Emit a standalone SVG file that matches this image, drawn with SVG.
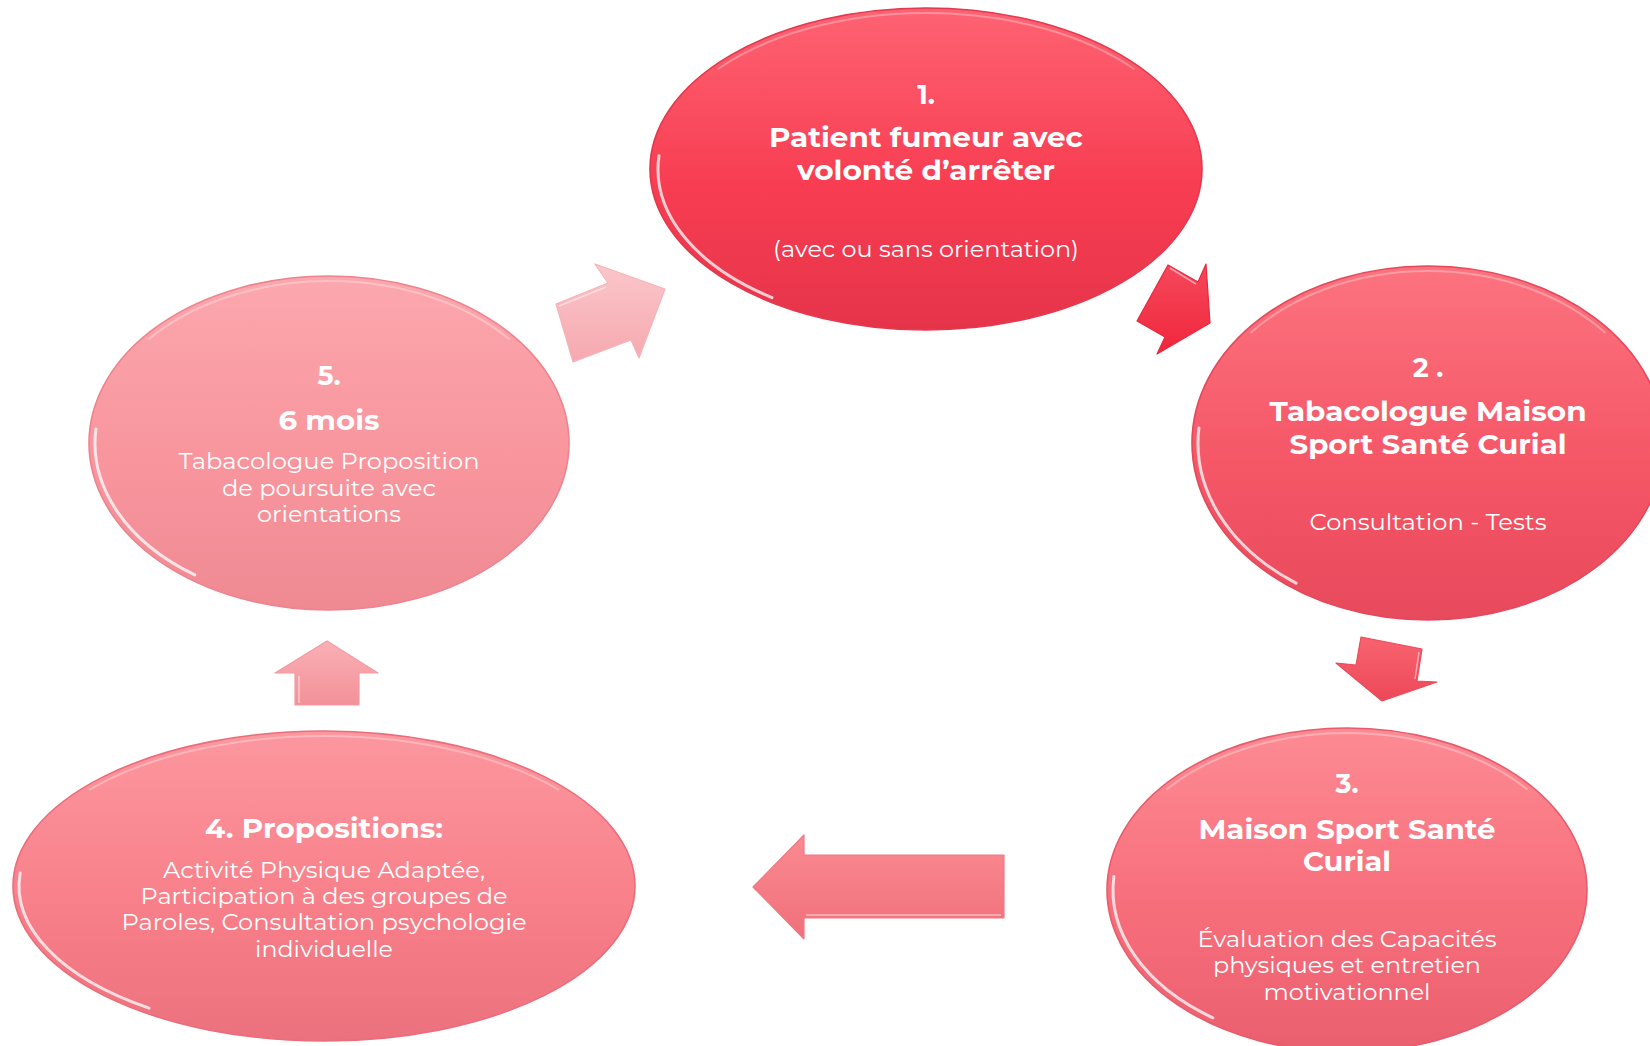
<svg xmlns="http://www.w3.org/2000/svg" width="1650" height="1046" viewBox="0 0 1650 1046">
<style>
text{fill:#ffffff;text-anchor:middle;font-family:Montserrat,"DejaVu Sans","Noto Sans",sans-serif}
.b{font-weight:700;font-size:27px}
.r{font-weight:400;font-size:23px}
.rim{fill:none;stroke-width:1.6}
.hl{fill:none;stroke:#ffffff;stroke-width:3;stroke-opacity:.75;stroke-linecap:round;filter:url(#soft)}
.hlt{fill:none;stroke:#ffffff;stroke-width:2;stroke-opacity:.3;stroke-linecap:round;filter:url(#soft)}
.arr{stroke-width:1.2;stroke-linejoin:round}
</style>
<defs>
<filter id="soft" x="-10%" y="-10%" width="120%" height="120%"><feGaussianBlur stdDeviation="0.7"/></filter>
<linearGradient id="g1" x1="0" y1="0" x2="0" y2="1"><stop offset="0" stop-color="#fe6373"/><stop offset=".55" stop-color="#f83d52"/><stop offset="1" stop-color="#e5344a"/></linearGradient>
<linearGradient id="g2" x1="0" y1="0" x2="0" y2="1"><stop offset="0" stop-color="#fc737f"/><stop offset=".55" stop-color="#f55767"/><stop offset="1" stop-color="#e84a5d"/></linearGradient>
<linearGradient id="g3" x1="0" y1="0" x2="0" y2="1"><stop offset="0" stop-color="#fd8b94"/><stop offset=".55" stop-color="#f76e7b"/><stop offset="1" stop-color="#ea5f6f"/></linearGradient>
<linearGradient id="g4" x1="0" y1="0" x2="0" y2="1"><stop offset="0" stop-color="#fc979f"/><stop offset=".55" stop-color="#f8808a"/><stop offset="1" stop-color="#ec717e"/></linearGradient>
<linearGradient id="g5" x1="0" y1="0" x2="0" y2="1"><stop offset="0" stop-color="#fca7ae"/><stop offset=".55" stop-color="#f8959d"/><stop offset="1" stop-color="#ef8a93"/></linearGradient>
<linearGradient id="a6" x1="0" y1="0" x2="0" y2="1"><stop offset="0" stop-color="#fbc6ca"/><stop offset="1" stop-color="#f5a9af"/></linearGradient>
<linearGradient id="a7" x1="0" y1="0" x2="0" y2="1"><stop offset="0" stop-color="#f6485b"/><stop offset="1" stop-color="#f0263c"/></linearGradient>
<linearGradient id="a8" x1="0" y1="0" x2="0" y2="1"><stop offset="0" stop-color="#f8636f"/><stop offset="1" stop-color="#ec4858"/></linearGradient>
<linearGradient id="a9" x1="0" y1="0" x2="0" y2="1"><stop offset="0" stop-color="#fab0b6"/><stop offset="1" stop-color="#f39098"/></linearGradient>
<linearGradient id="a10" x1="0" y1="0" x2="0" y2="1"><stop offset="0" stop-color="#fb8a92"/><stop offset="1" stop-color="#ef6f7a"/></linearGradient>
</defs>

<g id="connectors">
  <polygon id="c5to1" class="arr" fill="url(#a6)" stroke="#f6b3b8" points="556,304 608,283 595,264 665,289 639,358 631,340 573,362"/>
  <polygon id="c1to2" class="arr" fill="url(#a7)" stroke="#e9283e" points="1168,265 1198,282 1206,264 1210,323 1157,354 1165,337 1137,321"/>
  <polygon id="c2to3" class="arr" fill="url(#a8)" stroke="#ea4a5a" points="1361,637 1422,649 1417,681 1437,682 1382,701 1336,663 1356,665"/>
  <polygon id="c4to5" class="arr" fill="url(#a9)" stroke="#f39ba1" points="327,641 378,673 359,673 359,705 295,705 295,673 275,673"/>
  <polygon id="c3to4" class="arr" fill="url(#a10)" stroke="#f07883" points="753,887 804,835 804,855 1004,855 1004,918 804,918 804,939"/>
  <g fill="none" stroke="#ffffff" stroke-opacity=".5" stroke-width="1.5">
    <line x1="559" y1="306" x2="606" y2="287"/>
    <line x1="1170" y1="268" x2="1196" y2="284"/>
    <line x1="1419" y1="652" x2="1415" y2="679"/>
    <line x1="299" y1="676" x2="299" y2="703"/>
    <line x1="806" y1="915" x2="1001" y2="915"/>
  </g>
</g>

<g id="node1">
  <ellipse cx="926" cy="169" rx="276" ry="161" fill="url(#g1)"/>
  <ellipse class="rim" cx="926" cy="169" rx="276" ry="161" stroke="#e3384d"/>
  <path class="hl" d="M659,155.7 A268,157 0 0 0 772,297.6"/>
  <path class="hlt" d="M718.4,68.7 A271,156 0 0 1 1133.6,68.7"/>
  <text class="b" x="926" y="104">1.</text>
  <text class="b" x="926" y="147" textLength="314" lengthAdjust="spacingAndGlyphs">Patient fumeur avec</text>
  <text class="b" x="926" y="180" textLength="258" lengthAdjust="spacingAndGlyphs">volonté d’arrêter</text>
  <text class="r" x="926" y="257" textLength="306" lengthAdjust="spacingAndGlyphs">(avec ou sans orientation)</text>
</g>

<g id="node2">
  <ellipse cx="1428" cy="443" rx="236" ry="177" fill="url(#g2)"/>
  <ellipse class="rim" cx="1428" cy="443" rx="236" ry="177" stroke="#e5475b"/>
  <path class="hl" d="M1198.9,428.1 A230,171 0 0 0 1296.1,583.1"/>
  <path class="hlt" d="M1251.1,332.4 A231,172 0 0 1 1604.9,332.4"/>
  <text class="b" x="1428" y="377">2 .</text>
  <text class="b" x="1428" y="421" textLength="317" lengthAdjust="spacingAndGlyphs">Tabacologue Maison</text>
  <text class="b" x="1428" y="454" textLength="277" lengthAdjust="spacingAndGlyphs">Sport Santé Curial</text>
  <text class="r" x="1428" y="530" textLength="237" lengthAdjust="spacingAndGlyphs">Consultation - Tests</text>
</g>

<g id="node3">
  <ellipse cx="1347" cy="890" rx="240" ry="162" fill="url(#g3)"/>
  <ellipse class="rim" cx="1347" cy="890" rx="240" ry="162" stroke="#e75c6c"/>
  <path class="hl" d="M1113.9,876.4 A234,156 0 0 0 1212.8,1017.8"/>
  <path class="hlt" d="M1167,789.1 A235,157 0 0 1 1527,789.1"/>
  <text class="b" x="1347" y="793">3.</text>
  <text class="b" x="1347" y="839" textLength="297" lengthAdjust="spacingAndGlyphs">Maison Sport Santé</text>
  <text class="b" x="1347" y="871" textLength="88" lengthAdjust="spacingAndGlyphs">Curial</text>
  <text class="r" x="1347" y="947" textLength="299" lengthAdjust="spacingAndGlyphs">Évaluation des Capacités</text>
  <text class="r" x="1347" y="973" textLength="268" lengthAdjust="spacingAndGlyphs">physiques et entretien</text>
  <text class="r" x="1347" y="1000" textLength="167" lengthAdjust="spacingAndGlyphs">motivationnel</text>
</g>

<g id="node4">
  <ellipse cx="324" cy="886" rx="311" ry="155" fill="url(#g4)"/>
  <ellipse class="rim" cx="324" cy="886" rx="311" ry="155" stroke="#eb6c7a"/>
  <path class="hl" d="M20.2,873 A305,149 0 0 0 149.1,1008.1"/>
  <path class="hlt" d="M89.6,789.6 A306,150 0 0 1 558.4,789.6"/>
  <text class="b" x="324" y="838" textLength="238" lengthAdjust="spacingAndGlyphs">4. Propositions:</text>
  <text class="r" x="324" y="878" textLength="322" lengthAdjust="spacingAndGlyphs">Activité Physique Adaptée,</text>
  <text class="r" x="324" y="904" textLength="367" lengthAdjust="spacingAndGlyphs">Participation à des groupes de</text>
  <text class="r" x="324" y="930" textLength="405" lengthAdjust="spacingAndGlyphs">Paroles, Consultation psychologie</text>
  <text class="r" x="324" y="957" textLength="138" lengthAdjust="spacingAndGlyphs">individuelle</text>
</g>

<g id="node5">
  <ellipse cx="329" cy="443" rx="240" ry="167" fill="url(#g5)"/>
  <ellipse class="rim" cx="329" cy="443" rx="240" ry="167" stroke="#ee838d"/>
  <path class="hl" d="M95.9,429 A234,161 0 0 0 194.8,574.9"/>
  <path class="hlt" d="M149,338.9 A235,162 0 0 1 509,338.9"/>
  <text class="b" x="329" y="385">5.</text>
  <text class="b" x="329" y="430" textLength="101" lengthAdjust="spacingAndGlyphs">6 mois</text>
  <text class="r" x="329" y="469" textLength="301" lengthAdjust="spacingAndGlyphs">Tabacologue Proposition</text>
  <text class="r" x="329" y="496" textLength="214" lengthAdjust="spacingAndGlyphs">de poursuite avec</text>
  <text class="r" x="329" y="522" textLength="144" lengthAdjust="spacingAndGlyphs">orientations</text>
</g>
</svg>
